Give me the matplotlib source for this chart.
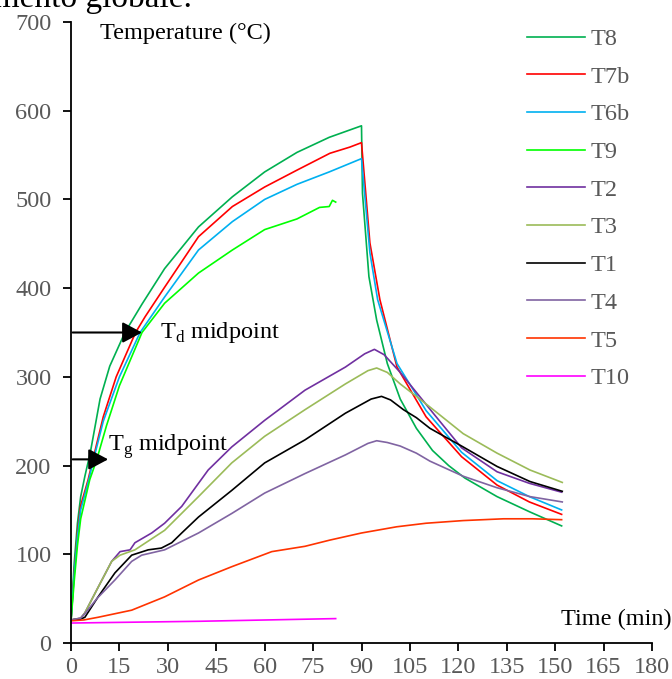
import matplotlib

matplotlib.use("Agg")
import matplotlib.pyplot as plt

# time (min) / temperature (degC)
t8 = [0, 1, 2, 3, 4.3, 6, 9, 12, 16.7, 22, 29, 39.5, 50, 60, 70, 80, 90,
      90.3, 92.3, 94.7, 98, 102, 107, 112, 117, 122, 132, 142, 152]
T8 = [25, 90, 135, 165, 188, 215, 275, 312, 350, 382, 422, 469, 503, 531, 553, 570, 583,
      507, 413, 364, 315, 275, 242, 217, 200, 186, 165, 148, 132]

t7b = [0, 1, 2, 3, 5.3, 6.8, 10, 14, 20, 23, 29, 39.5, 50, 60, 70, 80.2, 86.4, 90,
       92.6, 95.7, 101, 110, 121, 132, 142, 152]
T7b = [25, 80, 125, 155, 184, 207, 255, 300, 350, 368, 401, 458, 492, 514, 533, 552, 559, 564,
       451, 387, 311, 255, 210, 178, 159, 145]

t6b = [0, 1, 2, 3, 5.5, 7, 10, 15, 21.4, 29, 39.5, 50, 60, 70, 80, 86, 90,
       92.6, 95, 101, 110, 121, 132, 142, 152]
T6b = [25, 78, 120, 150, 184, 207, 250, 300, 350, 390, 443, 475, 500, 517, 531, 540, 546,
       440, 387, 315, 262, 215, 183, 165, 150]

t9 = [0, 1, 2, 3, 5.8, 8, 11, 15, 22, 29, 39.5, 50, 60, 70, 77, 80, 81, 82]
T9 = [25, 70, 110, 140, 184, 207, 245, 290, 350, 383, 417, 443, 466, 478, 491, 492, 499, 497]

t2 = [0, 3, 4.3, 8, 12.6, 15.2, 18.3, 19.8, 25, 29, 34.3, 42.5, 49.8, 60, 72.5, 85, 91,
      94, 97, 102, 106, 112, 121, 132, 142, 152]
T2 = [26, 28, 34, 60, 92, 103, 105, 113, 124, 135, 154, 195, 221, 251, 285, 311, 326,
      331, 325, 305, 287, 260, 220, 193, 180, 170]

t3 = [0, 3, 4.3, 8, 12.6, 15.2, 19.8, 29, 39.5, 49.8, 60, 72.5, 85, 92, 94.7,
      98, 102, 107, 111.2, 121.5, 132, 142.2, 152.2]
T3 = [26, 28, 34, 60, 92, 99, 105, 127, 165, 203, 233, 263, 292, 307, 310,
      305, 292, 278, 266, 236, 214, 195, 181]

t1 = [0, 3, 4.3, 8.4, 13.6, 18.8, 23.9, 28, 31.2, 34.3, 39.5, 49.8, 60, 72.5, 85, 93, 96.2,
      99, 103, 107, 111.2, 121.5, 132, 142.2, 152.2]
T1 = [26, 27, 29, 52, 79, 99, 105, 107, 113, 124, 142, 172, 203, 229, 259, 275, 278,
      274, 263, 254, 242, 221, 199, 182, 171]

t4 = [0, 3, 4.3, 8, 13.6, 18.8, 21.9, 29, 39.5, 49.8, 60, 72.5, 85, 92, 94.7,
      98, 102, 107, 111.2, 121.5, 132, 142.2, 152.2]
T4 = [26, 28, 33, 50, 71, 92, 99, 105, 124, 146, 169, 191, 212, 225, 228,
      226, 222, 214, 205, 188, 175, 165, 159]

t5 = [0, 4, 8.4, 18.8, 29, 39.5, 49.8, 62.2, 72.5, 80.2, 90, 100.9, 110, 121.5, 134, 143, 152]
T5 = [25, 26, 29, 37, 52, 71, 86, 103, 109, 116, 124, 131, 135, 138, 140, 140, 139]

t10 = [0, 40, 82]
T10 = [22.5, 24.5, 27.5]

series = [
    ("T8", t8, T8, "#00B050"),
    ("T7b", t7b, T7b, "#FF0000"),
    ("T6b", t6b, T6b, "#00B0F0"),
    ("T9", t9, T9, "#00FF00"),
    ("T2", t2, T2, "#7030A0"),
    ("T3", t3, T3, "#9BBB59"),
    ("T1", t1, T1, "#000000"),
    ("T4", t4, T4, "#8064A2"),
    ("T5", t5, T5, "#FF3300"),
    ("T10", t10, T10, "#FF00FF"),
]

x_ticks = list(range(0, 181, 15))
y_ticks = list(range(0, 701, 100))

TD_MID = 350
TG_MID = 207

FS = 17.5


def main() -> None:
    plt.rcParams["font.family"] = ["Liberation Serif", "DejaVu Serif"]
    plt.rcParams["mathtext.fontset"] = "custom"
    plt.rcParams["mathtext.rm"] = "Liberation Serif"

    fig = plt.figure(figsize=(6.72, 6.79), dpi=100)
    ax = fig.add_axes([71 / 672, 1 - 643 / 679, 581 / 672, 621 / 679])

    for name, t, temp, color in series:
        ax.plot(t, temp, color=color, lw=1.2, label=name)

    ax.set_xlim(0, 180)
    ax.set_ylim(0, 700)
    ax.set_xticks(x_ticks)
    ax.set_yticks(y_ticks)
    for s in ("top", "right"):
        ax.spines[s].set_visible(False)
    for s in ("left", "bottom"):
        ax.spines[s].set_linewidth(1.3)
    ax.tick_params(axis="both", direction="out", length=6, width=1.3,
                   labelsize=FS, labelcolor="#595959")
    ax.tick_params(axis="y", pad=8)
    ax.tick_params(axis="x", pad=4)

    ax.text(9, 687, "Temperature (°C)", fontsize=FS, va="center", ha="left")
    ax.text(186, 26, "Time (min)", fontsize=FS, va="center", ha="right", clip_on=False)

    arrow = dict(arrowstyle="-|>,head_length=0.6,head_width=0.32", color="black",
                 lw=1.5, mutation_scale=20, shrinkA=0, shrinkB=0)
    ax.annotate("", xy=(22, TD_MID), xytext=(0.5, TD_MID), arrowprops=arrow)
    ax.annotate("", xy=(11.5, TG_MID), xytext=(0.5, TG_MID), arrowprops=arrow)
    ax.text(27.5, TD_MID, r"T$_{\rm d}$ midpoint", fontsize=FS, va="center")
    ax.text(11.5, 221, r"T$_{\rm g}$ midpoint", fontsize=FS, va="center")

    leg = ax.legend(loc="upper left", bbox_to_anchor=(527 / 672, 1 - 28 / 679),
                    bbox_transform=fig.transFigure, frameon=False, fontsize=FS,
                    handlelength=2.4, handletextpad=0.2, labelspacing=0.645,
                    borderpad=0, borderaxespad=0)
    for txt in leg.get_texts():
        txt.set_color("#595959")

    # tail of the sentence above the chart, cut off by the top edge as in the source
    fig.text(192 / 672, 1 - 7 / 679, "riscaldamento globale.", fontsize=24,
             ha="right", va="baseline")

    fig.savefig("out.png", dpi=100)
    plt.close(fig)


if __name__ == "__main__":
    main()
